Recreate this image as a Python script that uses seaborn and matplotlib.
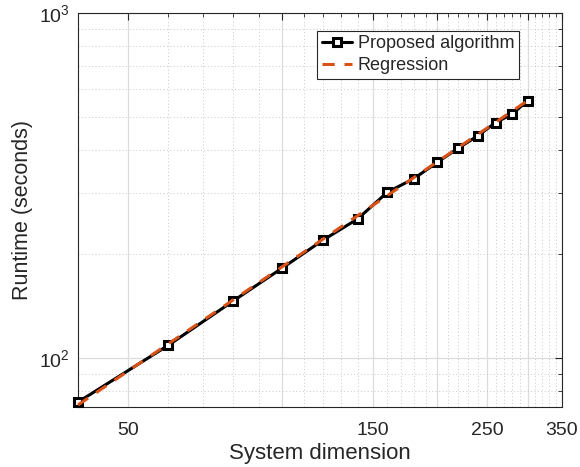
import matplotlib
matplotlib.use("Agg")
import matplotlib.pyplot as plt
import matplotlib.ticker as mticker
import seaborn as sns
import pandas as pd

# Data
dims = [40, 60, 80, 100, 120, 140, 160, 180, 200, 220, 240, 260, 280, 300]
runtime = [74.4, 108.8, 145.8, 182.3, 219.6, 252.7, 302.1, 330.6, 368.6, 405.8, 440.4, 481.3, 508.9, 557.2]
reg_x = [40, 300]
reg_y = [73.0, 557.0]
x_major = [50, 100, 150, 200, 250, 300, 350]
x_labeled = [50, 150, 250, 350]

sns.set_style("white")
plt.rcParams['font.family'] = ['Liberation Sans', 'DejaVu Sans']
plt.rcParams['mathtext.fontset'] = 'custom'
plt.rcParams['mathtext.rm'] = 'Liberation Sans'

fig = plt.figure(figsize=(5.8, 4.67), dpi=100)
ax = fig.add_axes([78/580, 1-407/467, (562-78)/580, (407-13)/467])

df = pd.DataFrame({"dim": dims, "rt": runtime})
dfr = pd.DataFrame({"dim": reg_x, "rt": reg_y})

sns.lineplot(data=df, x="dim", y="rt", ax=ax, color="black", lw=2.2,
             marker="s", markersize=5.5, markerfacecolor="white",
             markeredgecolor="black", markeredgewidth=2.2,
             label="Proposed algorithm", zorder=3, clip_on=False)
sns.lineplot(data=dfr, x="dim", y="rt", ax=ax, color="#D95319", lw=2.2,
             dashes=(4, 3.2), label="Regression", zorder=4, clip_on=False)

ax.set_xscale("log")
ax.set_yscale("log")
ax.set_xlim(40, 350)
ax.set_ylim(72, 1000)

ax.xaxis.set_major_locator(mticker.FixedLocator(x_major))
ax.xaxis.set_major_formatter(mticker.FuncFormatter(
    lambda v, p: f"{int(round(v))}" if int(round(v)) in x_labeled else ""))
x_minor = [v for v in range(40, 351, 10) if v not in x_major]
ax.xaxis.set_minor_locator(mticker.FixedLocator(x_minor))
ax.xaxis.set_minor_formatter(mticker.NullFormatter())

ax.yaxis.set_major_locator(mticker.LogLocator(base=10))
ax.yaxis.set_major_formatter(mticker.LogFormatterSciNotation())
ax.yaxis.set_minor_locator(mticker.LogLocator(base=10, subs=range(2, 10)))
ax.yaxis.set_minor_formatter(mticker.NullFormatter())

ax.grid(True, which="major", color="#dcdcdc", lw=0.9, ls="-")
ax.grid(True, which="minor", color="#c8c8c8", lw=0.7, ls=(0, (1, 2.5)))
ax.set_axisbelow(True)

for s in ax.spines.values():
    s.set_color("#262626")
    s.set_linewidth(0.8)
ax.tick_params(which="both", direction="in", top=True, right=True,
               color="#262626", labelsize=14, labelcolor="#262626")
ax.tick_params(which="major", length=5, width=0.8)
ax.tick_params(which="minor", length=3, width=0.6)
ax.tick_params(axis="x", pad=11)
ax.tick_params(axis="y", pad=6)

ax.set_xlabel("System dimension", fontsize=16, color="#262626", labelpad=3)
ax.set_ylabel("Runtime (seconds)", fontsize=15.5, color="#262626", labelpad=4)

leg = ax.legend(loc="upper right", bbox_to_anchor=(0.9105, 0.955), fontsize=13,
                frameon=True, fancybox=False, framealpha=1, edgecolor="#262626",
                handlelength=1.7, handletextpad=0.3, borderpad=0.25,
                labelspacing=0.28, borderaxespad=0)
leg.get_frame().set_linewidth(0.8)

fig.savefig("out.png", dpi=100)
